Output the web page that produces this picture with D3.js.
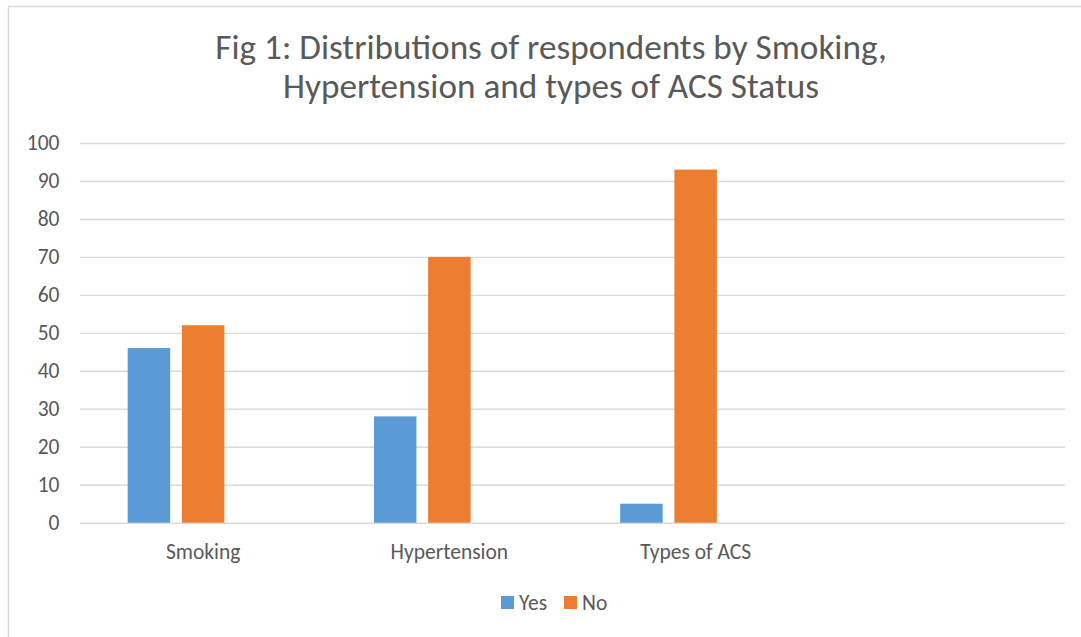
<!DOCTYPE html>
<html>
<head>
<meta charset="utf-8">
<script src="https://cdn.jsdelivr.net/npm/d3@7"></script>
<style>
  body { margin: 0; background: #fff; }
  text { font-family: Carlito, Lato, sans-serif; fill: #595959; }
</style>
</head>
<body>
<div id="chart"></div>
<script>
// chart data
const categories = ["Smoking", "Hypertension", "Types of ACS", ""]
const seriesNames = ["Yes", "No"]
const yesValues = [46, 28, 5]
const noValues = [52, 70, 93]
const yTicks = [0, 10, 20, 30, 40, 50, 60, 70, 80, 90, 100]
const titleLines = ["Fig 1: Distributions of respondents by Smoking,", "Hypertension and types of ACS Status"]
const colors = ["#5b9bd5", "#ed7d31"]

const width = 1081
const height = 637
const plot = { left: 80, right: 1065, top: 143, bottom: 522.7 }
const labelSize = "21.5px"

let svg = d3.select("#chart").append("svg")
  .attr("width", width)
  .attr("height", height)

// outer frame
svg.append("rect")
  .attr("x", 8.5).attr("y", 6.5)
  .attr("width", width).attr("height", height)
  .attr("fill", "none")
  .attr("stroke", "#d9d9d9")
  .attr("stroke-width", 1.5)

svg.append("g").selectAll("text")
  .data(titleLines)
  .enter().append("text")
  .attr("x", 551)
  .attr("y", (d, i) => 59 + i * 39)
  .attr("text-anchor", "middle")
  .style("font-size", "35.2px")
  .style("font-weight", 300)
  .text(d => d)

let x0 = d3.scaleBand().domain(categories).range([plot.left, plot.right])
// third slot is an empty series, Excel keeps room for it
let x1 = d3.scaleBand().domain(["Yes", "No", "_"]).range([0, x0.bandwidth()])
  .paddingInner(0.216).paddingOuter(0.88)
let y = d3.scaleLinear().domain([0, 100]).range([plot.bottom, plot.top])

// grid
let yAxis = d3.axisLeft(y).tickValues(yTicks).tickSize(-(plot.right - plot.left)).tickPadding(20.5)
let gy = svg.append("g").attr("transform", `translate(${plot.left},0)`).call(yAxis)
gy.select(".domain").remove()
gy.selectAll(".tick line").attr("stroke", "#d9d9d9").attr("stroke-width", 1.4)
gy.selectAll(".tick text").style("font-size", labelSize).attr("fill", "#595959").attr("font-family", null)

// bars
let rows = categories.slice(0, 3).map((c, i) => ({ cat: c, Yes: yesValues[i], No: noValues[i] }))
let groups = svg.append("g").selectAll("g")
  .data(rows)
  .enter().append("g")
  .attr("transform", d => `translate(${x0(d.cat)},0)`)

groups.selectAll("rect")
  .data(d => seriesNames.map(k => ({ key: k, value: d[k] })))
  .enter().append("rect")
  .attr("x", d => x1(d.key))
  .attr("y", d => y(d.value))
  .attr("width", x1.bandwidth())
  .attr("height", d => y(0) - y(d.value))
  .attr("fill", (d, i) => colors[i])

// category labels
let xAxis = d3.axisBottom(x0).tickSize(0).tickPadding(21)
let gx = svg.append("g").attr("transform", `translate(0,${plot.bottom})`).call(xAxis)
gx.select(".domain").remove()
gx.selectAll(".tick text").style("font-size", labelSize).attr("fill", "#595959").attr("font-family", null)

// legend
let legend = svg.append("g")
let legendX = [501, 564]
seriesNames.forEach((name, i) => {
  legend.append("rect")
    .attr("x", legendX[i]).attr("y", 596)
    .attr("width", 13).attr("height", 13)
    .attr("fill", colors[i])
  legend.append("text")
    .attr("x", legendX[i] + 18).attr("y", 610)
    .style("font-size", labelSize)
    .text(name)
})
</script>
</body>
</html>
